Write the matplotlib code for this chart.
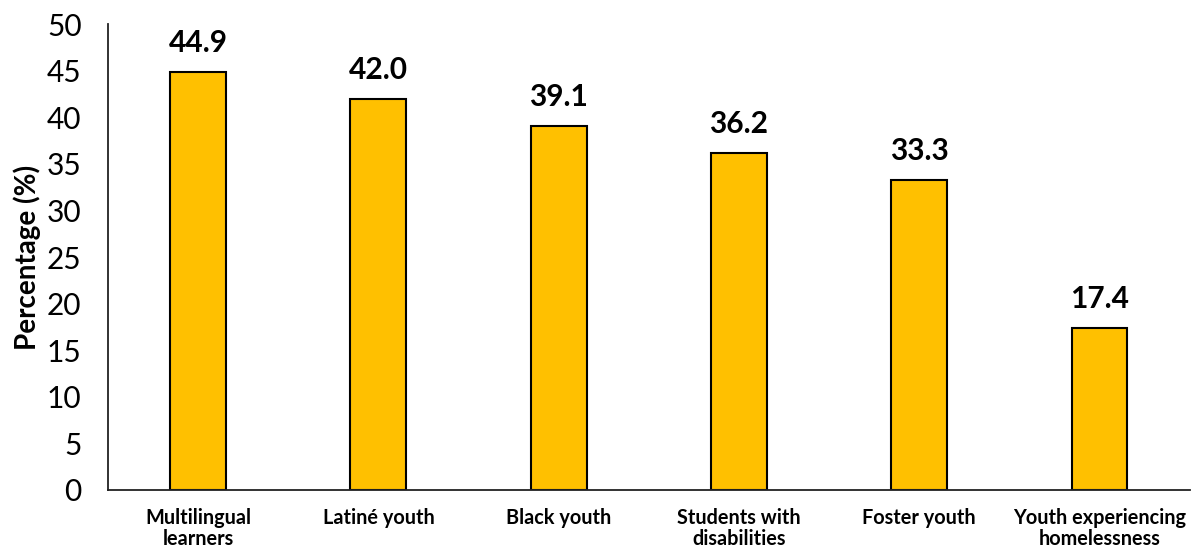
import matplotlib.pyplot as plt

plt.rcParams['font.family'] = ['Lato', 'DejaVu Sans']

categories = ['Multilingual\nlearners', 'Latiné youth', 'Black youth',
              'Students with\ndisabilities', 'Foster youth',
              'Youth experiencing\nhomelessness']
values = [44.9, 42.0, 39.1, 36.2, 33.3, 17.4]
yticks = [0, 5, 10, 15, 20, 25, 30, 35, 40, 45, 50]

fig = plt.figure(figsize=(11.92, 5.49), dpi=100)
ax = fig.add_axes([0.0906, 0.1075, 0.9074, 0.8485])

x = range(len(categories))
bars = ax.bar(x, values, width=0.31, color='#FFC000', edgecolor='black', linewidth=1.5)

for xi, v in zip(x, values):
    ax.text(xi, v + 1.6, f'{v:.1f}', ha='center', va='bottom',
            fontsize=21.5, fontweight='bold')

ax.set_xlim(-0.5, len(categories) - 0.5)
ax.set_ylim(0, 50)
ax.set_yticks(yticks)
ax.tick_params(axis='y', length=0, labelsize=21.5, pad=19)
ax.set_xticks(list(x))
ax.set_xticklabels(categories, fontsize=14.3, fontweight='bold', linespacing=1.05)
ax.tick_params(axis='x', length=0, pad=13)
ax.set_ylabel('Percentage (%)', fontsize=20, fontweight='bold', labelpad=4)

for s in ['top', 'right']:
    ax.spines[s].set_visible(False)
ax.spines['left'].set_linewidth(1.3)
ax.spines['bottom'].set_linewidth(1.3)
ax.spines['left'].set_color('#222222')
ax.spines['bottom'].set_color('#222222')

fig.savefig('out.png', dpi=100)
